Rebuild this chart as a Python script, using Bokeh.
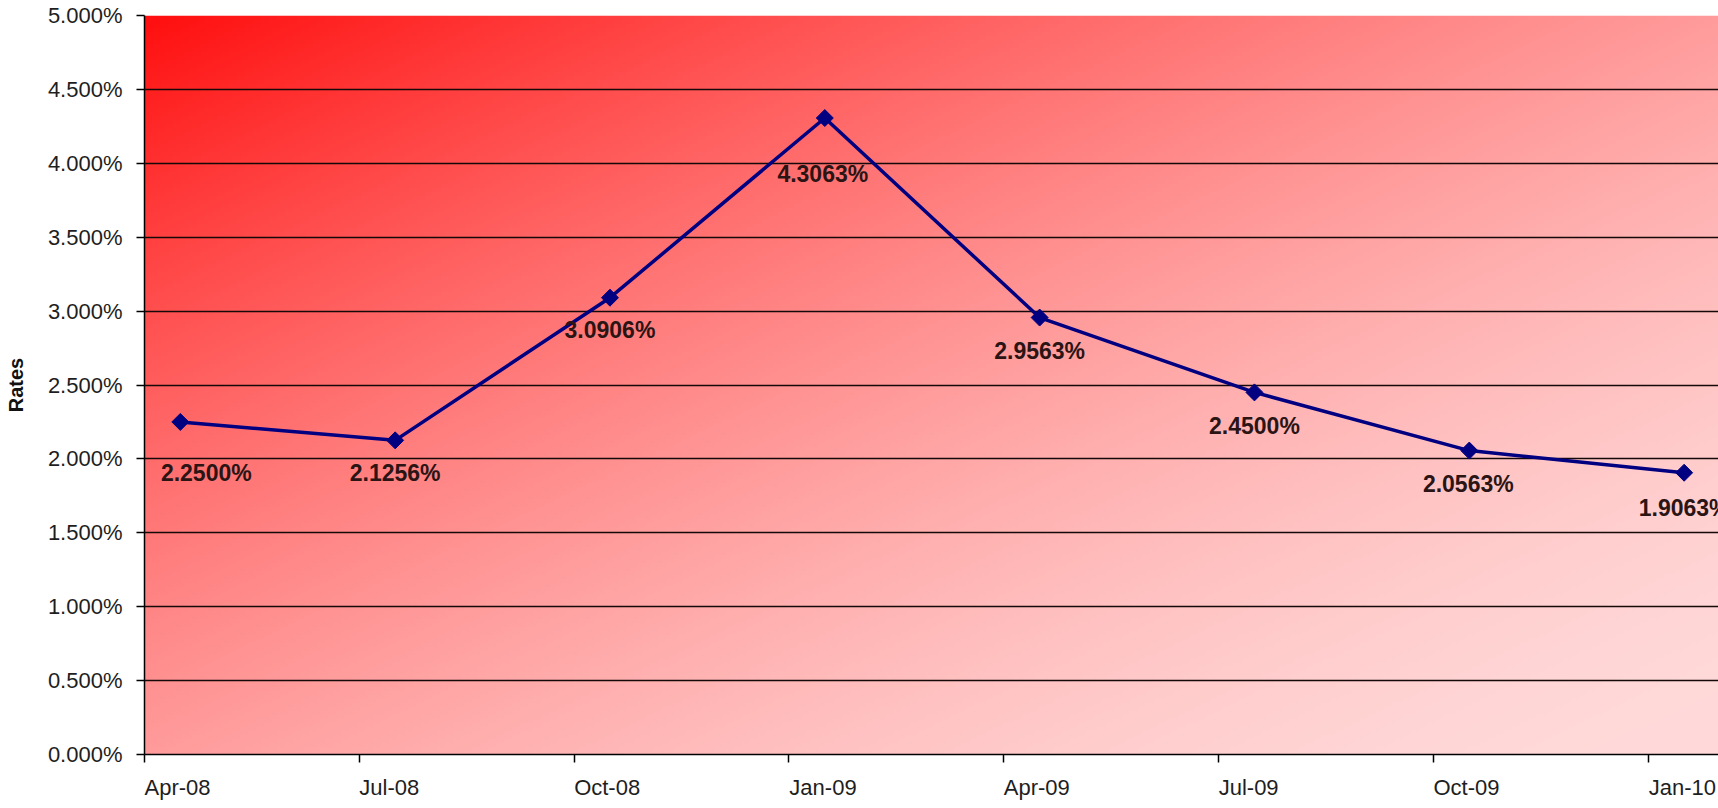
import numpy as np
from math import pi
from bokeh.plotting import figure
from bokeh.models import FixedTicker, ColumnDataSource, LabelSet, Range1d, LinearAxis
from bokeh.embed import file_html
from bokeh.resources import INLINE
from bokeh.core.properties import value

# ---- data ----
quarters = ["Apr-08", "Jul-08", "Oct-08", "Jan-09", "Apr-09", "Jul-09", "Oct-09", "Jan-10"]
rates = [2.2500, 2.1256, 3.0906, 4.3063, 2.9563, 2.4500, 2.0563, 1.9063]
rate_labels = ["2.2500%", "2.1256%", "3.0906%", "4.3063%", "2.9563%", "2.4500%", "2.0563%", "1.9063%"]
y_ticks = [0.0, 0.5, 1.0, 1.5, 2.0, 2.5, 3.0, 3.5, 4.0, 4.5, 5.0]
y_tick_labels = ["0.000%", "0.500%", "1.000%", "1.500%", "2.000%", "2.500%",
                 "3.000%", "3.500%", "4.000%", "4.500%", "5.000%"]

# ---- layout (style) ----
label_dx = [26, 0, 0, -2, 0, 0, -1, 0]
label_dy = [-51, -33, -32, -56, -33, -34, -33, -35]
quarter_label_half_px = [33, 30, 33, 34, 33, 30, 33, 34]   # half-width of each x label (left aligned)

MONTHS_SPAN = 21.98          # visible month slots (Apr-08 .. end of Jan-10)
PX_PER_MONTH = 1574 / MONTHS_SPAN

tick_months = [3 * i for i in range(len(quarters))]
point_months = [m + 0.5 for m in tick_months]   # centre of month slot

p = figure(width=1718, height=808, output_backend="svg", toolbar_location=None,
           x_range=Range1d(0, MONTHS_SPAN), y_range=Range1d(0, 5),
           min_border_left=144, min_border_right=0, min_border_top=15, min_border_bottom=54)
p.outline_line_color = None
p.border_fill_color = "white"
p.background_fill_color = "white"

# gradient background (decorative)
nx, ny = 393, 185
u = (np.arange(nx) + 0.5) / nx
v_top = 1 - (np.arange(ny) + 0.5) / ny
U, V = np.meshgrid(u, v_top)
t = (U + V) / 2
g = 14 + 204 * (1 - (1 - t) ** 1.7)
img = np.empty((ny, nx), dtype=np.uint32)
view = img.view(dtype=np.uint8).reshape((ny, nx, 4))
view[:, :, 0] = 255
view[:, :, 1] = g.astype(np.uint8)
view[:, :, 2] = g.astype(np.uint8)
view[:, :, 3] = 255
bg = p.image_rgba(image=[img], x=0, y=0, dw=MONTHS_SPAN, dh=5)
bg.level = "image"

# grid
p.xgrid.visible = False
p.ygrid.ticker = FixedTicker(ticks=y_ticks[:-1])
p.ygrid.grid_line_color = "#140808"
p.ygrid.grid_line_width = 1.5
p.ygrid.grid_line_alpha = 1.0

# y axis
p.yaxis.ticker = FixedTicker(ticks=y_ticks)
p.yaxis.major_label_overrides = {tk: lb for tk, lb in zip(y_ticks, y_tick_labels)}
p.yaxis.major_label_text_font = "Liberation Sans"
p.yaxis.major_label_text_font_size = "22px"
p.yaxis.major_label_text_color = "#1e1e1e"
p.yaxis.major_label_standoff = 14
p.yaxis.minor_tick_line_color = None
p.yaxis.major_tick_in = 0
p.yaxis.major_tick_out = 8
p.yaxis.axis_line_width = 1.5
p.yaxis.major_tick_line_width = 1.5
p.yaxis.axis_label = "Rates"
p.yaxis.axis_label_text_font = "Liberation Sans"
p.yaxis.axis_label_text_font_style = "bold"
p.yaxis.axis_label_text_font_size = "20px"
p.yaxis.axis_label_text_color = "#111111"
p.yaxis.axis_label_standoff = 18

# x axis: tick marks only
p.xaxis.ticker = FixedTicker(ticks=tick_months)
p.xaxis.major_label_overrides = {tk: "" for tk in tick_months}
p.xaxis.major_label_text_font_size = "0px"
p.xaxis.major_label_standoff = 0
p.xaxis.minor_tick_line_color = None
p.xaxis.major_tick_in = 0
p.xaxis.major_tick_out = 8
p.xaxis.axis_line_width = 1.5
p.xaxis.major_tick_line_width = 1.5

# second x axis carrying the quarter labels, left-aligned on the ticks
label_pos = [round(tm + hw / PX_PER_MONTH, 4) for tm, hw in zip(tick_months, quarter_label_half_px)]
ax2 = LinearAxis(ticker=FixedTicker(ticks=label_pos),
                 major_label_overrides={lp: q for lp, q in zip(label_pos, quarters)},
                 axis_line_color=None, major_tick_line_color=None, minor_tick_line_color=None,
                 major_tick_in=0, major_tick_out=0, major_label_standoff=12,
                 major_label_text_font="Liberation Sans", major_label_text_font_size="22px",
                 major_label_text_color="#1e1e1e")
p.add_layout(ax2, "below")

# line and markers
src = ColumnDataSource(dict(x=point_months, y=rates, text=rate_labels, dx=label_dx, dy=label_dy))
p.line("x", "y", source=src, line_color="#000080", line_width=3.5)
p.scatter("x", "y", source=src, marker="square", angle=pi / 4, size=12,
          fill_color="#000080", line_color="#000080")

p.add_layout(LabelSet(x="x", y="y", text="text", source=src, x_offset="dx", y_offset="dy",
                      text_align="center", text_baseline="middle",
                      text_font=value("Liberation Sans"), text_font_style="bold",
                      text_font_size="23px", text_color="#2a1414"))

open("out.html", "w").write(file_html(p, INLINE))
